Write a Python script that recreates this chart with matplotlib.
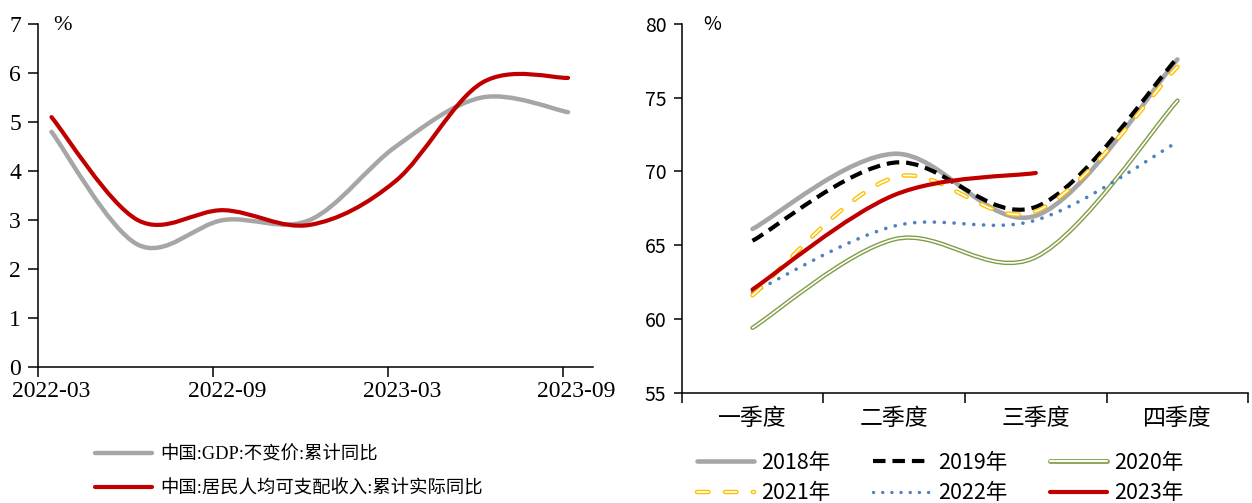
import numpy as np
import matplotlib
matplotlib.use("Agg")
import matplotlib.pyplot as plt
from matplotlib.path import Path
from matplotlib.patches import PathPatch
from matplotlib.lines import Line2D

plt.rcParams['lines.scale_dashes'] = False

# ---- data: left chart (quarterly, cumulative y/y, %)
quarters = ['2022-03', '2022-06', '2022-09', '2022-12', '2023-03', '2023-06', '2023-09']
gdp = [4.8, 2.5, 3.0, 3.0, 4.5, 5.5, 5.2]
income = [5.1, 3.0, 3.2, 2.9, 3.8, 5.8, 5.9]
left_ticklabels = ['2022-03', '2022-09', '2023-03', '2023-09']
left_names = ['中国:GDP:不变价:累计同比', '中国:居民人均可支配收入:累计实际同比']

# ---- data: right chart (by quarter of year, %)
seasons = ['一季度', '二季度', '三季度', '四季度']
y2018 = [66.1, 71.2, 67.0, 77.6]
y2019 = [65.3, 70.6, 67.6, 77.7]
y2020 = [59.4, 65.4, 64.2, 74.8]
y2021 = [61.6, 69.6, 67.3, 77.1]
y2022 = [61.8, 66.3, 66.7, 72.0]
y2023 = [62.0, 68.4, 69.9]


def smooth_path(xs, ys):
    # excel-style smoothed line: cubic bezier through the points
    pts = np.column_stack([xs, ys]).astype(float)
    n = len(pts)
    verts = [pts[0]]
    codes = [Path.MOVETO]
    for i in range(n - 1):
        p0 = pts[i - 1] if i > 0 else pts[i]
        p1 = pts[i]
        p2 = pts[i + 1]
        p3 = pts[i + 2] if i + 2 < n else pts[i + 1]
        verts += [p1 + (p2 - p0) / 6, p2 - (p3 - p1) / 6, p2]
        codes += [Path.CURVE4] * 3
    return Path(verts, codes)


def smooth_line(ax, xs, ys, **kw):
    cap = kw.pop('capstyle', 'round')
    p = PathPatch(smooth_path(xs, ys), fill=False, capstyle=cap, joinstyle='round', **kw)
    ax.add_patch(p)
    return p


serif = ['Liberation Serif', 'Noto Sans CJK SC']
sans = ['Noto Sans CJK SC', 'DejaVu Sans']

fig = plt.figure(figsize=(12.52, 5.03), dpi=100)

# ================= left chart
ax1 = fig.add_axes([37.7 / 1252, 1 - 367 / 503, (593 - 37.7) / 1252, (367 - 24) / 503])
xq = np.arange(len(quarters))
smooth_line(ax1, xq, gdp, edgecolor='#a6a6a6', linewidth=3.2, zorder=2)
smooth_line(ax1, xq, income, edgecolor='#c00000', linewidth=3.0, zorder=3)

ax1.set_xlim(-0.16, 6.29)
ax1.set_ylim(0, 7)
ax1.set_yticks(range(0, 8))
ax1.set_xticks([-0.16, 1.875, 3.91, 5.94])
ax1.set_xticklabels([])
ax1.set_xticks([0.0, 2.04, 4.07, 6.10], minor=True)
ax1.set_xticklabels(left_ticklabels, minor=True, family=serif, fontsize=17)
ax1.tick_params(axis='x', which='major', direction='out', length=7, width=1.1)
ax1.tick_params(axis='x', which='minor', length=0, pad=10)
ax1.tick_params(axis='y', direction='out', length=7, width=1.1, pad=5, labelsize=17)
for lab in ax1.get_yticklabels():
    lab.set_family(serif)
for s in ['top', 'right']:
    ax1.spines[s].set_visible(False)
for s in ['left', 'bottom']:
    ax1.spines[s].set_linewidth(1.1)
ax1.text(62 / 1252, 1 - 26 / 503, '%', transform=fig.transFigure, family=serif,
         fontsize=16, ha='center', va='center')

h1 = [Line2D([], [], color='#a6a6a6', lw=3.2, solid_capstyle='round'),
      Line2D([], [], color='#c00000', lw=3.0, solid_capstyle='round')]
fig.legend(h1, left_names, loc='upper left', bbox_to_anchor=(95 / 1252, 1 - 446 / 503),
           frameon=False, prop={'family': serif, 'size': 13.2}, handlelength=3.1,
           handletextpad=0.45, labelspacing=0.9, borderpad=0, borderaxespad=0)

# ================= right chart
ax2 = fig.add_axes([681.7 / 1252, 1 - 392.7 / 503, 566.6 / 1252, 368.7 / 503])
xs = np.arange(len(seasons))
dot_ls = (0, (0.1, 7))
yel_ls = (0, (8.3, 11.8))
smooth_line(ax2, xs, y2018, edgecolor='#a6a6a6', linewidth=3.3, zorder=2)
smooth_line(ax2, xs, y2019, edgecolor='black', linewidth=3.0, linestyle=(0, (9, 5)),
            capstyle='butt', zorder=3)
smooth_line(ax2, xs, y2020, edgecolor='#7f9d45', linewidth=3.2, zorder=2)
smooth_line(ax2, xs, y2020, edgecolor='white', linewidth=1.2, zorder=2.1)
smooth_line(ax2, xs, y2021, edgecolor='#ffc000', linewidth=3.2, linestyle=yel_ls, zorder=4)
smooth_line(ax2, xs, y2021, edgecolor='white', linewidth=1.2, linestyle=yel_ls, zorder=4.1)
smooth_line(ax2, xs, y2022, edgecolor='#4f81bd', linewidth=2.6, linestyle=dot_ls, zorder=3)
smooth_line(ax2, xs[:len(y2023)], y2023, edgecolor='#c00000', linewidth=3.0, zorder=5)

ax2.set_xlim(-0.5, 3.5)
ax2.set_ylim(55, 80)
ax2.set_yticks(range(55, 81, 5))
ax2.set_xticks(xs)
ax2.set_xticklabels(seasons, family=sans, fontsize=16.5)
ax2.set_xticks(np.arange(-0.5, 4.0, 1.0), minor=True)
ax2.tick_params(axis='x', which='major', length=0, pad=10)
ax2.tick_params(axis='x', which='minor', direction='out', length=7, width=1.1)
ax2.tick_params(axis='y', direction='out', length=6, width=1.1, pad=5, labelsize=14)
for lab in ax2.get_yticklabels():
    lab.set_family(sans)
for s in ['top', 'right']:
    ax2.spines[s].set_visible(False)
for s in ['left', 'bottom']:
    ax2.spines[s].set_linewidth(1.1)
ax2.text(712 / 1252, 1 - 25 / 503, '%', transform=fig.transFigure, family=sans,
         fontsize=14, ha='center', va='center')

g_out = Line2D([], [], color='#8faa5a', lw=3.6, solid_capstyle='round')
g_in = Line2D([], [], color='white', lw=1.4, solid_capstyle='round')
yl_out = Line2D([], [], color='#ffc000', lw=3.2, linestyle=yel_ls, dash_capstyle='round')
yl_in = Line2D([], [], color='white', lw=1.2, linestyle=yel_ls, dash_capstyle='round')
h2 = [Line2D([], [], color='#a6a6a6', lw=3.3, solid_capstyle='round'),
      (yl_out, yl_in),
      Line2D([], [], color='black', lw=3.0, linestyle=(0, (9, 5))),
      Line2D([], [], color='#4f81bd', lw=2.4, linestyle=(0, (0.1, 6.5)), dash_capstyle='round'),
      (g_out, g_in),
      Line2D([], [], color='#c00000', lw=3.0, solid_capstyle='round')]
labels2 = ['2018年', '2021年', '2019年', '2022年', '2020年', '2023年']
fig.legend(h2, labels2, loc='upper left', bbox_to_anchor=(697 / 1252, 1 - 452 / 503),
           ncol=3, frameon=False, prop={'family': sans, 'size': 15.5}, handlelength=2.65,
           handletextpad=0.33, columnspacing=2.0, labelspacing=0.38, borderpad=0,
           borderaxespad=0)

fig.savefig('out.png', dpi=100)
